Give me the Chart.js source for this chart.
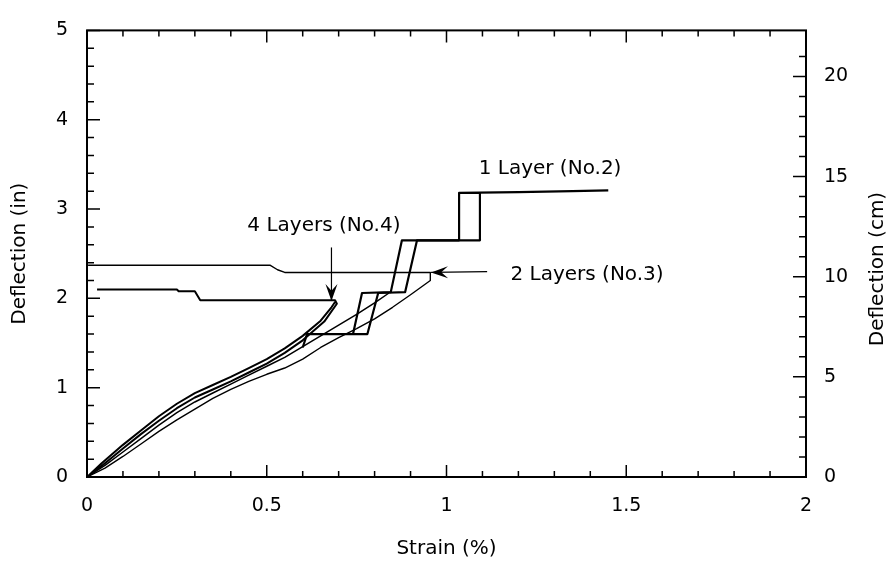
<!DOCTYPE html>
<html>
<head>
<meta charset="utf-8">
<script src="https://cdn.jsdelivr.net/npm/chart.js@4.4.1/dist/chart.umd.min.js"></script>
<style>
  html, body { margin: 0; padding: 0; background: #fff; }
  #wrap { width: 892px; height: 563px; }
</style>
</head>
<body>
<div id="wrap"><canvas id="grafico"></canvas></div>
<script>
// Tick labels
const xMajor = [0, 0.5, 1, 1.5, 2];
const xTickLabels = ['0', '0.5', '1', '1.5', '2'];
const yMajor = [0, 1, 2, 3, 4, 5];
const yTickLabels = ['0', '1', '2', '3', '4', '5'];
const y2Major = [0, 5, 10, 15, 20];
const y2TickLabels = ['0', '5', '10', '15', '20'];

// Strain (%) , deflection (in)
// 4 layers: residual plateau, unloading branch, loading branch
const layer4 = [
  [0.028, 2.1], [0.25, 2.1], [0.255, 2.08], [0.3, 2.08], [0.315, 1.98], [0.69, 1.98],
  [0.695, 1.94], [0.66, 1.74], [0.6, 1.53], [0.55, 1.39], [0.5, 1.27], [0.45, 1.17],
  [0.4, 1.07], [0.35, 0.98], [0.3, 0.89], [0.25, 0.77], [0.2, 0.63], [0.15, 0.48],
  [0.1, 0.32], [0.04, 0.12], [0, 0],
  [0.04, 0.15], [0.1, 0.36], [0.15, 0.52], [0.2, 0.68], [0.25, 0.82], [0.3, 0.94],
  [0.35, 1.03], [0.4, 1.12], [0.45, 1.22], [0.5, 1.32], [0.55, 1.44], [0.6, 1.58],
  [0.65, 1.75], [0.68, 1.9], [0.69, 1.96]
];

// 1 layer: loading branch and stepped deflection readings
const layer1Rise = [
  [0, 0], [0.05, 0.13], [0.1, 0.28], [0.15, 0.43], [0.2, 0.58], [0.25, 0.72],
  [0.3, 0.84], [0.35, 0.94], [0.4, 1.04], [0.45, 1.14], [0.5, 1.24], [0.55, 1.34],
  [0.6, 1.46], [0.65, 1.58], [0.7, 1.7], [0.75, 1.82], [0.8, 1.95], [0.84, 2.06]
];
const layer1StepA = [
  [0.6, 1.45], [0.612, 1.6], [0.78, 1.6], [0.81, 2.06], [0.885, 2.07], [0.918, 2.65],
  [1.093, 2.65], [1.093, 3.18], [1.035, 3.18], [1.2, 3.19], [1.35, 3.2], [1.45, 3.21]
];
const layer1StepB = [
  [0.74, 1.6], [0.765, 2.06], [0.845, 2.07], [0.876, 2.65], [1.035, 2.65], [1.035, 3.18]
];

// 2 layers: loading branch and residual plateau
const layer2 = [
  [0, 0], [0.05, 0.1], [0.1, 0.23], [0.15, 0.37], [0.2, 0.51], [0.25, 0.64],
  [0.3, 0.76], [0.35, 0.88], [0.4, 0.98], [0.45, 1.07], [0.5, 1.15], [0.55, 1.22],
  [0.6, 1.32], [0.65, 1.45], [0.7, 1.56], [0.75, 1.66], [0.8, 1.77], [0.85, 1.9],
  [0.9, 2.04], [0.955, 2.2], [0.955, 2.29], [0.55, 2.29], [0.53, 2.32],
  [0.51, 2.37], [0.003, 2.37]
];

const FUENTE = '"DejaVu Sans", sans-serif';

function etiqueta(valor, mayores, textos) {
  const i = mayores.findIndex(m => Math.abs(m - valor) < 1e-6);
  return i >= 0 ? textos[i] : '';
}

function esMayor(valor, mayores) {
  return mayores.some(m => Math.abs(m - valor) < 1e-6);
}

function serie(puntos, ancho) {
  return {
    data: puntos.map(p => ({ x: p[0], y: p[1] })),
    showLine: true,
    borderColor: '#000',
    borderWidth: ancho,
    borderJoinStyle: 'round',
    pointRadius: 0,
    tension: 0,
    yAxisID: 'y'
  };
}

// Notes with arrows, placed in data units
const notas = [
  { texto: '1 Layer (No.2)', x: 1.288, y: 3.45 },
  { texto: '4 Layers (No.4)', x: 0.659, y: 2.81 },
  { texto: '2 Layers (No.3)', x: 1.391, y: 2.26 }
];
const flechas = [
  { desde: [0.68, 2.57], hasta: [0.68, 1.97] },
  { desde: [1.113, 2.3], hasta: [0.957, 2.29] }
];

const marcoYTicks = {
  id: 'marcoYTicks',
  afterDraw(chart) {
    const { ctx, chartArea: a, scales } = chart;
    ctx.save();
    ctx.strokeStyle = '#000';
    ctx.lineWidth = 2;
    ctx.strokeRect(a.left, a.top, a.right - a.left, a.bottom - a.top);

    ctx.lineWidth = 1.5;
    ctx.beginPath();
    scales.x.ticks.forEach(t => {
      const px = scales.x.getPixelForValue(t.value);
      const largo = esMayor(t.value, xMajor) ? 12 : 6;
      ctx.moveTo(px, a.bottom); ctx.lineTo(px, a.bottom - largo);
      ctx.moveTo(px, a.top); ctx.lineTo(px, a.top + largo);
    });
    scales.y.ticks.forEach(t => {
      const py = scales.y.getPixelForValue(t.value);
      const largo = esMayor(t.value, yMajor) ? 13 : 7;
      ctx.moveTo(a.left, py); ctx.lineTo(a.left + largo, py);
    });
    scales.y2.ticks.forEach(t => {
      if (t.value > 22.01) return;
      const py = scales.y2.getPixelForValue(t.value);
      const largo = esMayor(t.value, y2Major) ? 13 : 7;
      ctx.moveTo(a.right, py); ctx.lineTo(a.right - largo, py);
    });
    ctx.stroke();

    // right axis title, read bottom to top
    ctx.fillStyle = '#000';
    ctx.font = '20px ' + FUENTE;
    ctx.textAlign = 'center';
    ctx.textBaseline = 'middle';
    ctx.translate(878, 269);
    ctx.rotate(-Math.PI / 2);
    ctx.fillText('Deflection (cm)', 0, 0);
    ctx.restore();
  },
  afterDatasetsDraw(chart) {
    const { ctx, scales } = chart;
    const sx = scales.x, sy = scales.y;
    ctx.save();
    ctx.fillStyle = '#000';
    ctx.strokeStyle = '#000';
    ctx.font = '20px ' + FUENTE;
    ctx.textAlign = 'center';
    ctx.textBaseline = 'middle';
    notas.forEach(n => ctx.fillText(n.texto, sx.getPixelForValue(n.x), sy.getPixelForValue(n.y)));

    flechas.forEach(f => {
      const x0 = sx.getPixelForValue(f.desde[0]), y0 = sy.getPixelForValue(f.desde[1]);
      const x1 = sx.getPixelForValue(f.hasta[0]), y1 = sy.getPixelForValue(f.hasta[1]);
      const ang = Math.atan2(y1 - y0, x1 - x0);
      ctx.lineWidth = 1.2;
      ctx.beginPath();
      ctx.moveTo(x0, y0);
      ctx.lineTo(x1, y1);
      ctx.stroke();
      const largo = 17, medio = 6;
      const bx = x1 - largo * Math.cos(ang), by = y1 - largo * Math.sin(ang);
      const nx = -Math.sin(ang), ny = Math.cos(ang);
      ctx.beginPath();
      ctx.moveTo(x1, y1);
      ctx.lineTo(bx + nx * medio, by + ny * medio);
      ctx.lineTo(x1 - 0.6 * largo * Math.cos(ang), y1 - 0.6 * largo * Math.sin(ang));
      ctx.lineTo(bx - nx * medio, by - ny * medio);
      ctx.closePath();
      ctx.fill();
    });
    ctx.restore();
  }
};

const ctx = document.getElementById('grafico').getContext('2d');
new Chart(ctx, {
  type: 'scatter',
  data: {
    datasets: [
      serie(layer4, 2),
      serie(layer1Rise, 1.5),
      serie(layer1StepA, 2.2),
      serie(layer1StepB, 2.2),
      serie(layer2, 1.4)
    ]
  },
  options: {
    responsive: true,
    maintainAspectRatio: false,
    animation: false,
    layout: { padding: { top: 15, left: 0, right: 0, bottom: 0 } },
    plugins: {
      legend: { display: false },
      tooltip: { enabled: false }
    },
    scales: {
      x: {
        type: 'linear',
        position: 'bottom',
        min: 0,
        max: 2,
        afterFit: s => { s.height = 86; },
        grid: { display: false, drawTicks: false },
        border: { display: false },
        ticks: {
          stepSize: 0.1,
          autoSkip: false,
          maxRotation: 0,
          padding: 18,
          color: '#000',
          font: { family: FUENTE, size: 19 },
          callback: v => etiqueta(v, xMajor, xTickLabels)
        },
        title: {
          display: true,
          text: 'Strain (%)',
          color: '#000',
          font: { family: FUENTE, size: 20 },
          padding: { top: 0, bottom: 2 }
        }
      },
      y: {
        type: 'linear',
        position: 'left',
        min: 0,
        max: 5,
        afterFit: s => { s.width = 87; },
        grid: { display: false, drawTicks: false },
        border: { display: false },
        ticks: {
          stepSize: 0.2,
          autoSkip: false,
          padding: 19,
          color: '#000',
          font: { family: FUENTE, size: 19 },
          callback: v => etiqueta(v, yMajor, yTickLabels)
        },
        title: {
          display: true,
          text: 'Deflection (in)',
          color: '#000',
          font: { family: FUENTE, size: 20 },
          padding: { top: 8, bottom: 0 }
        }
      },
      y2: {
        type: 'linear',
        position: 'right',
        min: 0,
        max: 22.3,
        afterFit: s => { s.width = 86; },
        grid: { display: false, drawTicks: false },
        border: { display: false },
        ticks: {
          stepSize: 1,
          autoSkip: false,
          padding: 18,
          color: '#000',
          font: { family: FUENTE, size: 19 },
          callback: v => etiqueta(v, y2Major, y2TickLabels)
        }
      }
    }
  },
  plugins: [marcoYTicks]
});
</script>
</body>
</html>
